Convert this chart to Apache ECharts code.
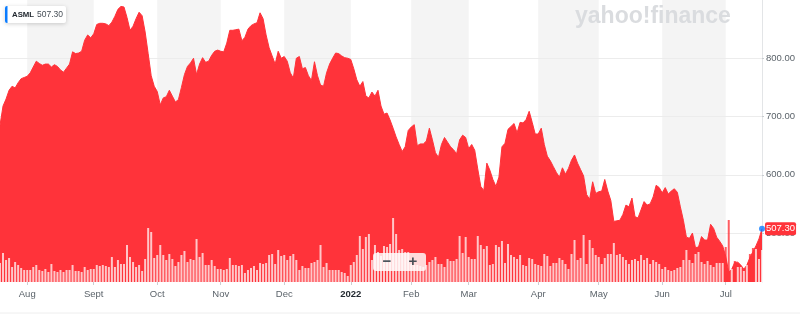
<!DOCTYPE html>
<html>
<head>
<meta charset="utf-8">
<script src="https://cdn.jsdelivr.net/npm/echarts@6/dist/echarts.min.js"></script>
<style>html,body{margin:0;padding:0;background:#fff;}#c{width:800px;height:314px;}</style>
</head>
<body>
<div id="c"></div>
<script>
// ---- data ----
const tradeMonths = ['2021-07','2021-08','2021-09','2021-10','2021-11','2021-12','2022-01','2022-02','2022-03','2022-04','2022-05','2022-06','2022-07'];
const tradeDays = [
  [20,21,22,23,26,27,28,29,30],
  [2,3,4,5,6,9,10,11,12,13,16,17,18,19,20,23,24,25,26,27,30,31],
  [1,2,3,7,8,9,10,13,14,15,16,17,20,21,22,23,24,27,28,29,30],
  [1,4,5,6,7,8,11,12,13,14,15,18,19,20,21,22,25,26,27,28,29],
  [1,2,3,4,5,8,9,10,11,12,15,16,17,18,19,22,23,24,26,29,30],
  [1,2,3,6,7,8,9,10,13,14,15,16,17,20,21,22,23,27,28,29,30,31],
  [3,4,5,6,7,10,11,12,13,14,18,19,20,21,24,25,26,27,28,31],
  [1,2,3,4,7,8,9,10,11,14,15,16,17,18,22,23,24,25,28],
  [1,2,3,4,7,8,9,10,11,14,15,16,17,18,21,22,23,24,25,28,29,30,31],
  [1,4,5,6,7,8,11,12,13,14,18,19,20,21,22,25,26,27,28,29],
  [2,3,4,5,6,9,10,11,12,13,16,17,18,19,20,23,24,25,26,27,31],
  [1,2,3,6,7,8,9,10,13,14,15,16,17,21,22,23,24,27,28,29,30],
  [1,5,6,7,8,11,12,13,14,15,18,19,20]
];
const tickMonths = ['2021-08','2021-09','2021-10','2021-11','2021-12','2022-01','2022-02','2022-03','2022-04','2022-05','2022-06','2022-07'];
const tickLabels = ['Aug','Sept','Oct','Nov','Dec','2022','Feb','Mar','Apr','May','Jun','Jul'];
const shadedMonths = ['2021-08','2021-10','2021-12','2022-02','2022-04','2022-06'];
const priceTicks = [500, 600, 700, 800];
const ticker = 'ASML';

const price = [
  685,718,730,745,752,749,758,765,767,769,
  775,785,795,791,788,790,790,785,789,786,
  780,776,783,790,811,808,809,812,831,840,
  835,842,858,860,860,859,856,862,872,884,
  889,888,870,848,855,868,879,873,845,808,
  770,752,743,720,732,734,745,735,725,729,
  750,772,786,792,800,772,790,801,793,795,
  805,812,814,812,811,826,848,848,849,850,
  830,836,850,856,859,861,878,868,840,818,
  804,790,812,800,803,795,775,766,800,803,
  782,784,770,762,794,770,754,752,775,790,
  800,809,808,804,801,800,798,782,763,752,
  760,735,732,742,735,745,718,704,706,694,
  680,665,652,640,648,676,682,686,650,653,
  653,658,680,660,638,630,652,664,656,648,
  643,636,660,668,664,645,652,642,610,580,
  573,620,608,592,580,596,648,654,678,683,
  688,672,690,689,695,709,690,670,670,680,
  652,632,624,614,604,596,612,601,611,625,
  634,620,609,598,566,558,588,568,571,572,
  592,572,556,520,521,522,532,548,545,560,
  528,526,540,554,548,550,562,582,578,569,
  578,567,572,576,570,545,522,493,491,500,
  475,476,494,488,488,515,508,493,486,478,
  460,433,438,450,450,445,438,445,458,468,
  478,490,507.3
];

const volume = [
  1.9,2.9,2.2,2.4,1.5,2.0,1.7,1.4,1.2,1.2,
  1.2,1.5,1.7,1.2,1.1,1.3,1.0,1.8,1.1,1.0,
  1.2,1.0,1.2,1.2,1.7,1.1,1.1,1.0,1.5,1.2,
  1.3,1.3,1.7,1.6,1.7,1.6,1.5,2.5,1.5,2.2,
  1.8,1.8,3.7,2.5,2.0,1.5,1.7,1.1,2.3,5.4,
  5.0,2.4,2.7,3.7,2.7,2.2,2.8,2.3,1.6,2.0,
  2.7,3.1,2.0,2.3,2.2,4.3,2.5,2.9,1.7,1.7,
  2.2,1.6,1.3,1.3,1.2,1.3,2.4,1.7,1.7,1.6,
  1.7,0.9,1.2,1.4,1.6,1.2,1.9,1.8,1.9,2.7,
  2.8,1.8,3.2,2.6,2.7,2.2,2.6,2.8,2.2,1.2,
  1.6,1.4,1.4,1.9,2.0,2.2,3.7,1.5,1.9,1.2,
  1.2,1.2,1.2,1.0,0.9,0.6,1.7,2.0,2.7,4.6,
  3.3,4.5,4.8,2.2,3.7,3.0,2.6,3.6,3.5,3.8,
  6.4,4.8,3.2,3.3,3.0,3.0,1.8,1.7,1.7,1.6,
  1.5,1.7,2.0,2.2,2.5,1.8,1.8,1.5,2.3,2.1,
  2.1,2.3,4.6,2.9,4.5,2.5,2.3,2.3,4.6,3.7,
  3.3,3.6,1.7,1.8,3.7,3.5,4.1,1.9,3.8,2.7,
  2.5,2.3,2.7,1.7,1.6,2.4,2.3,1.8,1.7,1.6,
  2.8,2.6,1.6,1.9,1.9,2.4,2.2,1.8,1.3,2.8,
  4.2,2.2,2.4,4.7,1.8,4.2,3.4,2.7,2.5,1.8,
  2.4,2.8,2.8,3.9,2.7,2.8,2.5,2.2,1.8,2.2,
  2.3,2.1,2.7,2.2,2.4,1.8,2.2,2.0,1.8,1.3,
  1.5,1.2,1.1,1.2,1.4,1.5,2.2,3.2,2.2,1.9,
  2.8,3.0,2.0,1.8,2.1,1.7,1.5,1.9,1.9,1.9,
  3.5,6.2,1.3,2.1,1.5,1.5,1.1,1.7,2.8,3.4,
  3.3,2.3,3.2
];

// ---- build ----
const dates = [];
tradeMonths.forEach((m, k) => tradeDays[k].forEach(d => dates.push(m + '-' + String(d).padStart(2, '0'))));
const firstIdx = {};
dates.forEach((d, i) => { const m = d.slice(0, 7); if (!(m in firstIdx)) firstIdx[m] = i; });
const isTick = (idx) => tickMonths.some(m => firstIdx[m] === idx);
const lastIdx = price.length - 1;
const lastPrice = price[lastIdx];

const RED = '#ff333a';
const FONT = '"Liberation Sans", Arial, sans-serif';

const bands = shadedMonths.map(m => {
  const k = tradeMonths.indexOf(m);
  return [{ xAxis: dates[firstIdx[m]] }, { xAxis: dates[firstIdx[tradeMonths[k + 1]]] }];
});

const chart = echarts.init(document.getElementById('c'), null, { renderer: 'canvas' });
const option = {
  animation: false,
  grid: { left: 0, right: 38, top: 0, bottom: 32 },
  xAxis: {
    type: 'category', data: dates, boundaryGap: false,
    axisLine: { show: false },
    axisTick: { show: true, interval: isTick, length: 3, lineStyle: { color: '#c9cdd1' } },
    axisLabel: {
      interval: isTick, margin: 7, color: '#5b636a', fontSize: 9.5, fontFamily: FONT,
      formatter: (v) => {
        const t = tickLabels[tickMonths.indexOf(v.slice(0, 7))];
        return /^\d{4}$/.test(t) ? '{y|' + t + '}' : t;
      },
      rich: { y: { fontWeight: 'bold', color: '#232a31', fontSize: 9.5, fontFamily: FONT } }
    },
    splitLine: { show: false }
  },
  yAxis: [
    {
      type: 'value', position: 'right', min: 416, max: 900, z: 1.5,
      axisLine: { show: true, lineStyle: { color: '#e3e5e7' } },
      axisTick: { show: true, customValues: priceTicks, length: 2, lineStyle: { color: '#c9cdd1' } },
      axisLabel: { customValues: priceTicks, formatter: v => Number(v).toFixed(2), color: '#5b636a', fontSize: 9.5, fontFamily: FONT, margin: 4 },
      splitLine: { show: true, lineStyle: { color: '#ececec' } }
    },
    { type: 'value', min: 0, max: 28.2, show: false, splitLine: { show: false } }
  ],
  series: [
    {
      type: 'line', data: [], z: 1, silent: true, symbol: 'none',
      markArea: { silent: true, itemStyle: { color: '#f4f4f4' }, data: bands }
    },
    {
      type: 'line', id: 'price', data: price, symbol: 'none', showSymbol: false, z: 2,
      lineStyle: { color: RED, width: 1 },
      areaStyle: { color: RED, opacity: 1, origin: 'start' },
      endLabel: {
        show: true, distance: 3,
        formatter: p => Number(Array.isArray(p.value) ? p.value[1] : p.value).toFixed(2),
        backgroundColor: RED, color: '#fff', padding: [2, 1, 1, 1], borderRadius: 2,
        fontSize: 9.5, fontFamily: FONT
      }
    },
    {
      type: 'bar', id: 'vol', yAxisIndex: 1, data: volume, barWidth: 2, z: 3, silent: true,
      itemStyle: { color: 'rgba(255,255,255,0.72)' }
    },
    {
      type: 'scatter', data: [[lastIdx, lastPrice]], symbolSize: 6, z: 4, silent: true,
      itemStyle: { color: '#0a7cff' }
    }
  ],
  graphic: [
    { type: 'text', x: 575, y: 17, silent: true, z: 50,
      style: { text: 'yahoo!finance', font: '900 23px "Liberation Sans", Arial', fill: '#dadcdf', verticalAlign: 'middle' } },
    { type: 'rect', z: 100, shape: { x: 5, y: 6, width: 61, height: 17, r: 2 },
      style: { fill: '#fff', shadowBlur: 4, shadowColor: 'rgba(0,0,0,0.18)', shadowOffsetY: 1 } },
    { type: 'rect', z: 101, shape: { x: 5, y: 6, width: 2.5, height: 17, r: [2, 0, 0, 2] }, style: { fill: '#0a7cff' } },
    { type: 'text', z: 102, x: 12, y: 14.5, style: { text: ticker, font: 'bold 7.8px "Liberation Sans", Arial', fill: '#232a31', verticalAlign: 'middle' } },
    { type: 'text', z: 102, x: 37, y: 14.5, style: { text: lastPrice.toFixed(2), font: '8.5px "Liberation Sans", Arial', fill: '#464e56', verticalAlign: 'middle' } },
    { type: 'rect', z: 100, shape: { x: 373, y: 253, width: 53, height: 18, r: 3 }, style: { fill: 'rgba(255,255,255,0.82)' } },
    { type: 'text', z: 101, x: 387, y: 262, style: { text: '\u2212', font: 'bold 15px "Liberation Sans", Arial', fill: '#464e56', align: 'center', verticalAlign: 'middle' } },
    { type: 'text', z: 101, x: 413, y: 262, style: { text: '+', font: 'bold 15px "Liberation Sans", Arial', fill: '#464e56', align: 'center', verticalAlign: 'middle' } },
    { type: 'line', z: 0, shape: { x1: 0, y1: 313, x2: 800, y2: 313 }, style: { stroke: '#eeeeee', lineWidth: 1 } }
  ]
};
chart.setOption(option);

// volume bars poking above the price area are drawn red, others white
const volData = volume.map((v, i) => {
  const pTop = chart.convertToPixel({ xAxisIndex: 0, yAxisIndex: 0 }, [i, price[i]])[1];
  const vTop = chart.convertToPixel({ xAxisIndex: 0, yAxisIndex: 1 }, [i, v])[1];
  return { value: v, itemStyle: { color: vTop < pTop - 1 ? 'rgba(255,51,58,0.8)' : 'rgba(255,255,255,0.72)' } };
});
chart.setOption({ series: [{}, {}, { id: 'vol', data: volData }, {}] });
</script>
</body>
</html>
